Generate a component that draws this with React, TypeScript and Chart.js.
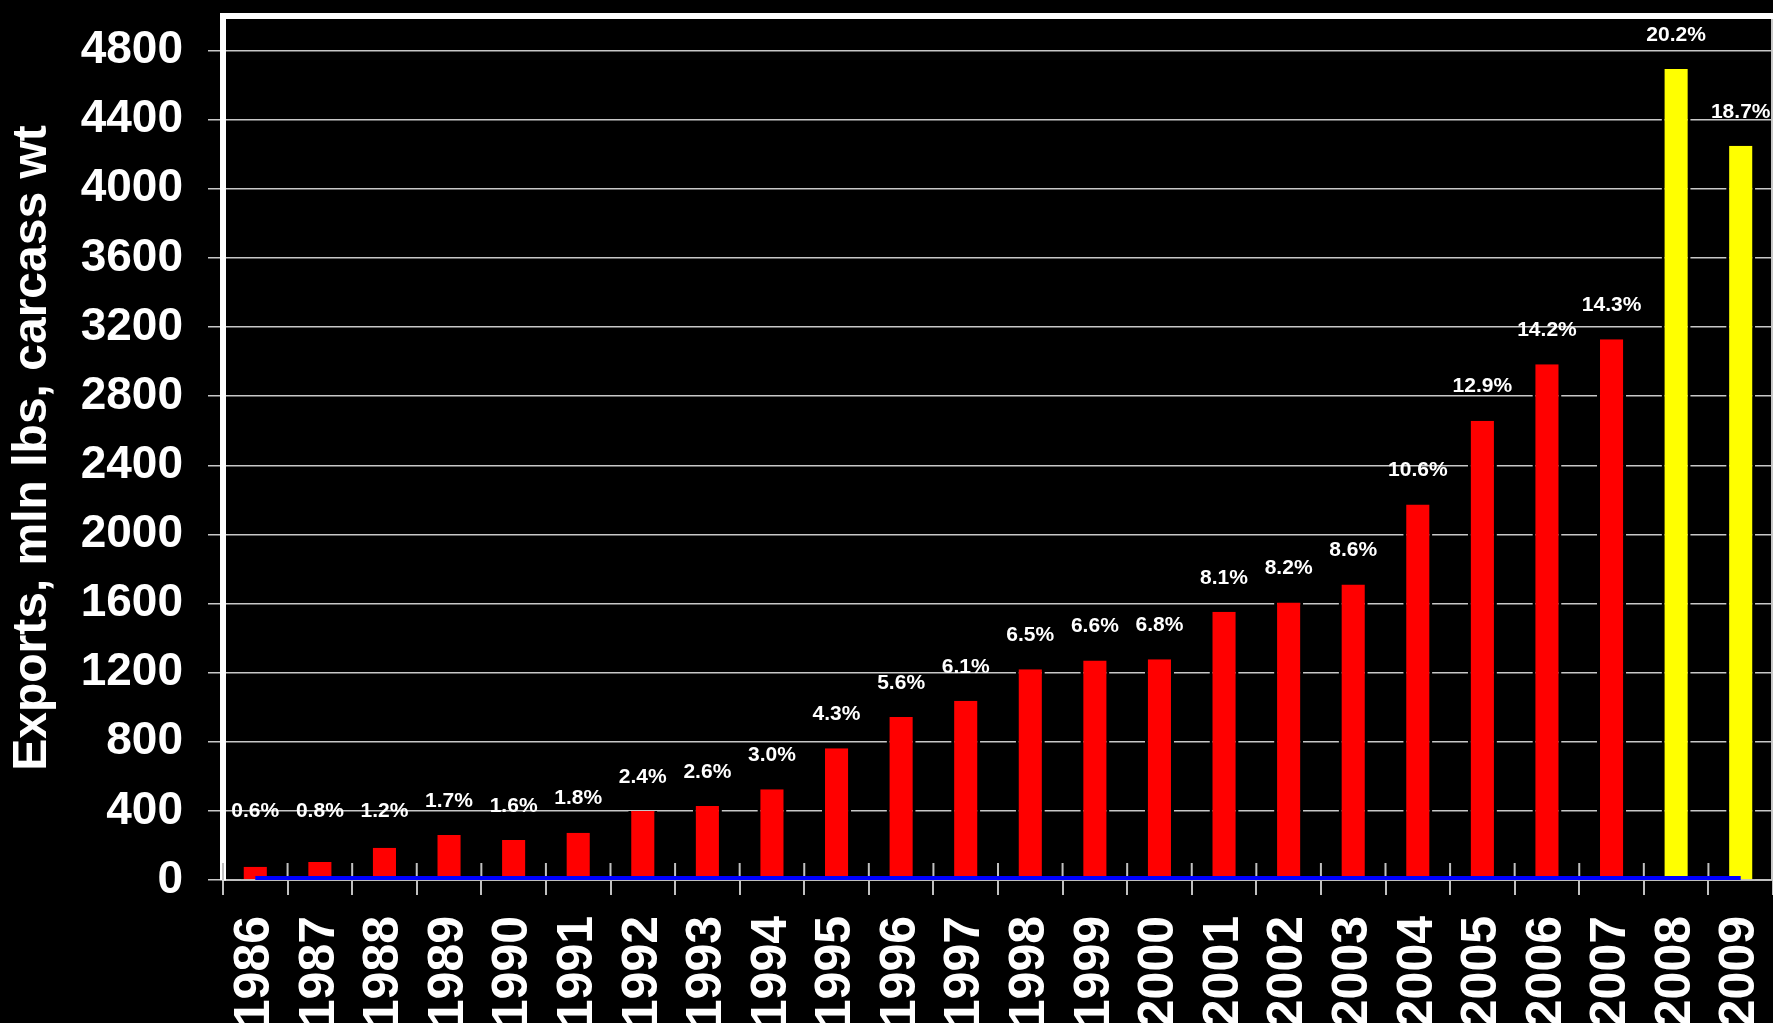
import React, { useEffect, useRef } from 'react';
import { Chart, registerables } from 'chart.js';

Chart.register(...registerables);

const years = [
  '1986', '1987', '1988', '1989', '1990', '1991', '1992', '1993', '1994', '1995', '1996', '1997',
  '1998', '1999', '2000', '2001', '2002', '2003', '2004', '2005', '2006', '2007', '2008', '2009',
];
const exportsMlnLbs = [
  77, 104, 187, 260, 231, 274, 399, 428, 525, 763, 944, 1037,
  1220, 1270, 1278, 1552, 1606, 1710, 2173, 2658, 2984, 3130, 4694, 4249,
];
const shareOfProductionPct = [
  0.6, 0.8, 1.2, 1.7, 1.6, 1.8, 2.4, 2.6, 3.0, 4.3, 5.6, 6.1,
  6.5, 6.6, 6.8, 8.1, 8.2, 8.6, 10.6, 12.9, 14.2, 14.3, 20.2, 18.7,
];
const baselineSeries = [
  0, 0, 0, 0, 0, 0, 0, 0, 0, 0, 0, 0,
  0, 0, 0, 0, 0, 0, 0, 0, 0, 0, 0, 0,
];
const projectedYears = ['2008', '2009'];
const yTickValues = [0, 400, 800, 1200, 1600, 2000, 2400, 2800, 3200, 3600, 4000, 4400, 4800];
const yAxisTitle = 'Exports, mln lbs, carcass wt';

const FONT = '"Liberation Sans", Arial, Helvetica, sans-serif';

const framePlugin = {
  id: 'framePlugin',
  beforeDatasetsDraw(chart: any) {
    const { ctx, chartArea } = chart;
    const xs = chart.scales.x;
    ctx.save();
    // inner part of the category tick marks
    ctx.strokeStyle = '#c0c0c0';
    ctx.lineWidth = 2;
    for (let i = 0; i <= years.length; i++) {
      const px = xs.getPixelForValue(i - 0.5);
      ctx.beginPath();
      ctx.moveTo(px, chartArea.bottom - 17);
      ctx.lineTo(px, chartArea.bottom);
      ctx.stroke();
    }
    // right frame line
    ctx.strokeStyle = '#c8c8c8';
    ctx.lineWidth = 2;
    ctx.beginPath();
    ctx.moveTo(chartArea.right - 1, chartArea.top);
    ctx.lineTo(chartArea.right - 1, chartArea.bottom);
    ctx.stroke();
    // top frame line
    ctx.strokeStyle = '#ffffff';
    ctx.lineWidth = 6;
    ctx.beginPath();
    ctx.moveTo(chartArea.left - 3, chartArea.top);
    ctx.lineTo(chart.width, chartArea.top);
    ctx.stroke();
    ctx.restore();
  },
};

const labelPlugin = {
  id: 'labelPlugin',
  afterDatasetsDraw(chart: any) {
    const { ctx } = chart;
    const meta = chart.getDatasetMeta(1);
    const yFloor = chart.scales.y.getPixelForValue(400);
    ctx.save();
    ctx.font = `bold 21px ${FONT}`;
    ctx.fillStyle = '#ffffff';
    ctx.textAlign = 'center';
    ctx.textBaseline = 'middle';
    meta.data.forEach((bar: any, i: number) => {
      const y = Math.min(bar.y - 34, yFloor);
      ctx.fillText(shareOfProductionPct[i].toFixed(1) + '%', bar.x, y);
    });
    ctx.restore();
  },
};

export default function App() {
  const canvasRef = useRef<HTMLCanvasElement | null>(null);

  useEffect(() => {
    const canvas = canvasRef.current;
    if (!canvas) return;
    const chart = new Chart(canvas, {
      data: {
        labels: years,
        datasets: [
          {
            type: 'line',
            label: 'baseline',
            data: baselineSeries,
            borderColor: '#0000ff',
            borderWidth: 8,
            pointRadius: 0,
            fill: false,
            order: 0,
          },
          {
            type: 'bar',
            label: 'Exports',
            data: exportsMlnLbs,
            backgroundColor: years.map((y) => (projectedYears.includes(y) ? '#ffff00' : '#ff0000')),
            borderColor: '#000000',
            borderWidth: { left: 3, right: 3, top: 0, bottom: 0 },
            barPercentage: 0.45,
            categoryPercentage: 1,
            order: 1,
          },
        ],
      } as any,
      options: {
        responsive: false,
        animation: false,
        layout: { padding: { top: 16, right: 0, left: 0, bottom: 0 } },
        plugins: {
          legend: { display: false },
          tooltip: { enabled: false },
        },
        scales: {
          x: {
            offset: true,
            grid: {
              offset: true,
              drawOnChartArea: false,
              drawTicks: true,
              tickLength: 15,
              color: '#c0c0c0',
              lineWidth: 2,
            },
            border: { display: true, color: '#c0c0c0', width: 2 },
            ticks: {
              color: '#ffffff',
              font: { family: FONT, size: 50, weight: 'bold' },
              minRotation: 90,
              maxRotation: 90,
              autoSkip: false,
              padding: 21,
            },
            afterFit: (s: any) => {
              s.height = 143;
              s.paddingLeft = 0;
              s.paddingRight = 0;
            },
          },
          y: {
            min: 0,
            max: 5000,
            afterBuildTicks: (s: any) => {
              s.ticks = yTickValues.map((v) => ({ value: v }));
            },
            grid: { color: '#c8c8c8', lineWidth: 1.5, tickLength: 15 },
            border: { display: true, color: '#ffffff', width: 6 },
            ticks: {
              color: '#ffffff',
              font: { family: FONT, size: 46, weight: 'bold' },
              padding: 25,
              callback: (v: any) => String(v),
            },
            title: {
              display: true,
              text: yAxisTitle,
              color: '#ffffff',
              font: { family: FONT, size: 48, weight: 'bold' },
              padding: { top: 4, bottom: 0 },
            },
            afterFit: (s: any) => {
              s.width = 223;
              s.paddingTop = 0;
              s.paddingBottom = 0;
            },
          },
        },
      } as any,
      plugins: [framePlugin, labelPlugin],
    });
    return () => chart.destroy();
  }, []);

  return (
    <div style={{ position: 'fixed', left: 0, top: 0, width: 1773, height: 1023, background: '#000' }}>
      <canvas ref={canvasRef} width={1773} height={1023} style={{ display: 'block', background: '#000' }} />
    </div>
  );
}
